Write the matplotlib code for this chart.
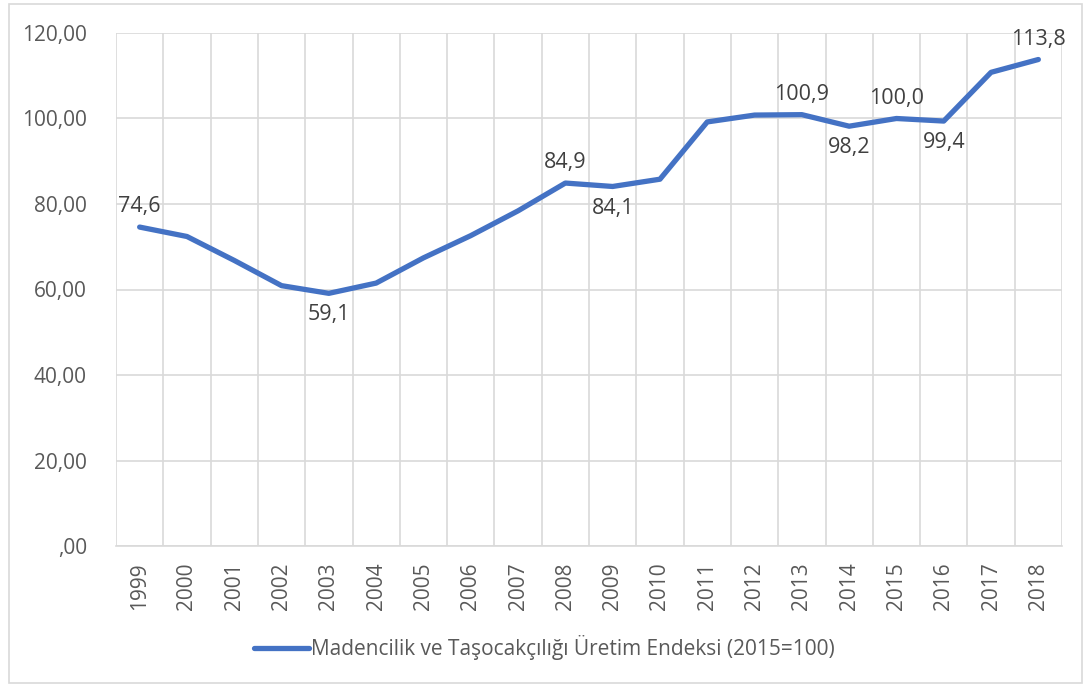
import matplotlib
matplotlib.use("Agg")
import matplotlib.pyplot as plt
from matplotlib.patches import Rectangle
from matplotlib.ticker import FixedLocator, FuncFormatter
import numpy as np

years = ["1999", "2000", "2001", "2002", "2003", "2004", "2005", "2006", "2007", "2008",
         "2009", "2010", "2011", "2012", "2013", "2014", "2015", "2016", "2017", "2018"]
values = [74.6, 72.4, 66.8, 60.9, 59.1, 61.5, 67.4, 72.6, 78.4, 84.9,
          84.1, 85.8, 99.2, 100.8, 100.9, 98.2, 100.0, 99.4, 110.8, 113.8]
series_name = "Madencilik ve Taşocakçılığı Üretim Endeksi (2015=100)"
# labelled points: index -> position ('above'/'below')
label_pos = {0: "above", 4: "below", 9: "above", 10: "below", 14: "above",
             15: "below", 16: "above", 17: "below", 19: "above"}

plt.rcParams['font.family'] = ['Open Sans', 'DejaVu Sans']
txt = "#595959"
grid = "#d9d9d9"
blue = "#4472C4"

fig = plt.figure(figsize=(10.89, 6.87), dpi=100)
ax = fig.add_axes([116/1089, 1-546/687, (1062-116)/1089, (546-33)/687])

x = np.arange(len(years))
ax.plot(x, values, color=blue, lw=3.8, solid_capstyle='round', solid_joinstyle='round',
        label=series_name, zorder=3)

for i, pos in label_pos.items():
    v = values[i]
    s = f"{v:.1f}".replace(".", ",")
    if pos == "above":
        ax.annotate(s, (x[i], v), xytext=(0, 7), textcoords='offset points',
                    ha='center', va='bottom', fontsize=15.5, color="#404040")
    else:
        ax.annotate(s, (x[i], v), xytext=(0, -8), textcoords='offset points',
                    ha='center', va='top', fontsize=15.5, color="#404040")

ax.set_xlim(-0.5, len(years) - 0.5)
ax.set_ylim(0, 120)
ax.set_yticks(np.arange(0, 121, 20))
ax.yaxis.set_major_formatter(FuncFormatter(lambda v, p: (f"{v:.2f}".replace(".", ",")).lstrip("0") if v == 0 else f"{v:.2f}".replace(".", ",")))
ax.set_xticks(x)
ax.set_xticklabels(years, rotation=90)
ax.xaxis.set_minor_locator(FixedLocator(np.arange(-0.5, len(years), 1)))

ax.grid(axis='y', which='major', color=grid, lw=1.2)
ax.grid(axis='x', which='minor', color=grid, lw=1.2)
ax.set_axisbelow(True)
for sp in ['top', 'right', 'left']:
    ax.spines[sp].set_visible(False)
ax.spines['bottom'].set_color(grid)
ax.spines['bottom'].set_linewidth(1.2)
ax.tick_params(axis='both', which='both', length=0, colors=txt, labelsize=15)
ax.tick_params(axis='x', pad=12)
ax.tick_params(axis='y', pad=21)

leg = fig.legend(loc='center', bbox_to_anchor=(0.5, 1-648/687), frameon=False,
                 fontsize=15, handlelength=2.6, handletextpad=0.1)
for t in leg.get_texts():
    t.set_color(txt)

fig.patches.append(Rectangle((9/1089, 1-683/687), (1082-9)/1089, (683-4)/687,
                             transform=fig.transFigure, fill=False, edgecolor=grid, lw=1.2))

fig.savefig("out.png", dpi=100)
